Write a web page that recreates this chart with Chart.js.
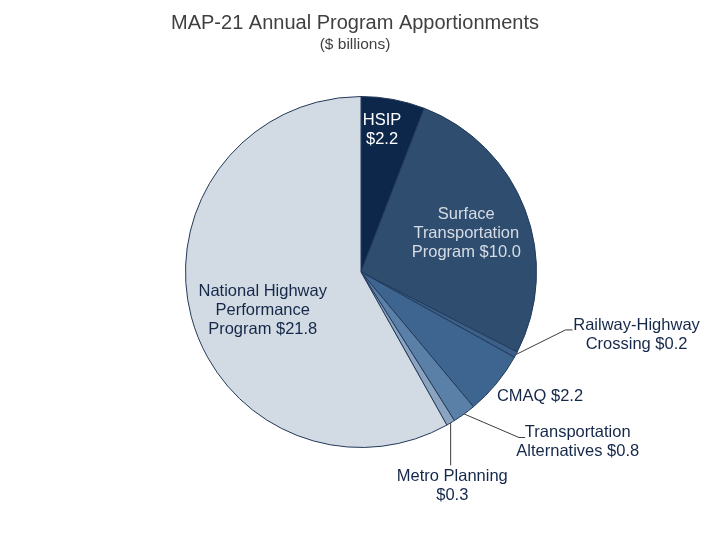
<!DOCTYPE html>
<html>
<head>
<meta charset="utf-8">
<script src="https://cdn.jsdelivr.net/npm/chart.js@4/dist/chart.umd.min.js"></script>
<style>
  html, body { margin: 0; padding: 0; background: #fff; }
  #wrap { width: 710px; height: 534px; }
</style>
</head>
<body>
<div id="wrap"><canvas id="pie" width="710" height="534"></canvas></div>
<script>
// values in $ billions, clockwise from 12 o'clock
const programs = ['HSIP', 'Surface Transportation Program', 'Railway-Highway Crossing', 'CMAQ',
    'Transportation Alternatives', 'Metro Planning', 'National Highway Performance Program'];
const amounts = [2.2, 10.0, 0.2, 2.2, 0.8, 0.3, 21.8];
const labelLines = [
    ['HSIP', '$2.2'],
    ['Surface', 'Transportation', 'Program $10.0'],
    ['Railway-Highway', 'Crossing $0.2'],
    ['CMAQ $2.2'],
    ['Transportation', 'Alternatives $0.8'],
    ['Metro Planning', '$0.3'],
    ['National Highway', 'Performance', 'Program $21.8']
];

const sliceColors = ['#0c2749', '#2f4e6f', '#3b5f88', '#3d6590', '#5b80a7', '#8aa4c0', '#d2dbe3'];
const textColors = ['#ffffff', '#d6dce4', '#15284a', '#15284a', '#15284a', '#15284a', '#15284a'];

// label centre, leader elbow and leader end, in units of the pie radius from its centre
// (elbow x of null = straight down from the slice edge)
const labelSpots = [
    { at: [0.12, -0.81] },
    { at: [0.60, -0.22] },
    { at: [1.57, 0.36], elbow: [1.165, 0.33], end: [1.205, 0.33] },
    { at: [1.02, 0.71] },
    { at: [1.235, 0.97], elbow: [0.90, 0.943], end: [0.935, 0.943] },
    { at: [0.52, 1.22], elbow: [null, 1.102] },
    { at: [-0.56, 0.22] }
];

const FONT = '"Liberation Sans", Arial, sans-serif';

const labelPlugin = {
    id: 'sliceLabels',
    afterDraw(chart) {
        const ctx = chart.ctx;
        const arcs = chart.getDatasetMeta(0).data;
        ctx.save();

        // title
        ctx.textAlign = 'center';
        ctx.textBaseline = 'middle';
        ctx.fillStyle = '#404040';
        ctx.font = '20px ' + FONT;
        ctx.fillText('MAP-21 Annual Program Apportionments', 355, 23);
        ctx.font = '15.5px ' + FONT;
        ctx.fillText('($ billions)', 355, 45);

        arcs.forEach((arc, i) => {
            const p = arc.getProps(['x', 'y', 'startAngle', 'endAngle', 'outerRadius'], true);
            const r = p.outerRadius;
            const spot = labelSpots[i];
            if (spot.elbow) {
                const mid = (p.startAngle + p.endAngle) / 2;
                const sx = p.x + Math.cos(mid) * r;
                const sy = p.y + Math.sin(mid) * r;
                const ex = spot.elbow[0] === null ? sx : p.x + spot.elbow[0] * r;
                const ey = p.y + spot.elbow[1] * r;
                ctx.strokeStyle = '#3c3c3c';
                ctx.lineWidth = 1;
                ctx.beginPath();
                ctx.moveTo(sx, sy);
                ctx.lineTo(ex, ey);
                if (spot.end) ctx.lineTo(p.x + spot.end[0] * r, p.y + spot.end[1] * r);
                ctx.stroke();
            }
            const lines = labelLines[i];
            const lh = 19;
            const cx = p.x + spot.at[0] * r;
            const cy = p.y + spot.at[1] * r - (lines.length - 1) * lh / 2;
            ctx.fillStyle = textColors[i];
            ctx.font = '16.5px ' + FONT;
            lines.forEach((t, k) => ctx.fillText(t, cx, cy + k * lh));
        });
        ctx.restore();
    }
};

new Chart(document.getElementById('pie'), {
    type: 'pie',
    data: {
        labels: programs,
        datasets: [{
            data: amounts,
            backgroundColor: sliceColors,
            borderColor: '#22395a',
            borderWidth: 1
        }]
    },
    options: {
        responsive: false,
        animation: false,
        layout: { padding: { top: 96, bottom: 86, left: 12, right: 0 } },
        plugins: {
            legend: { display: false },
            tooltip: { enabled: false }
        }
    },
    plugins: [labelPlugin]
});
</script>
</body>
</html>
